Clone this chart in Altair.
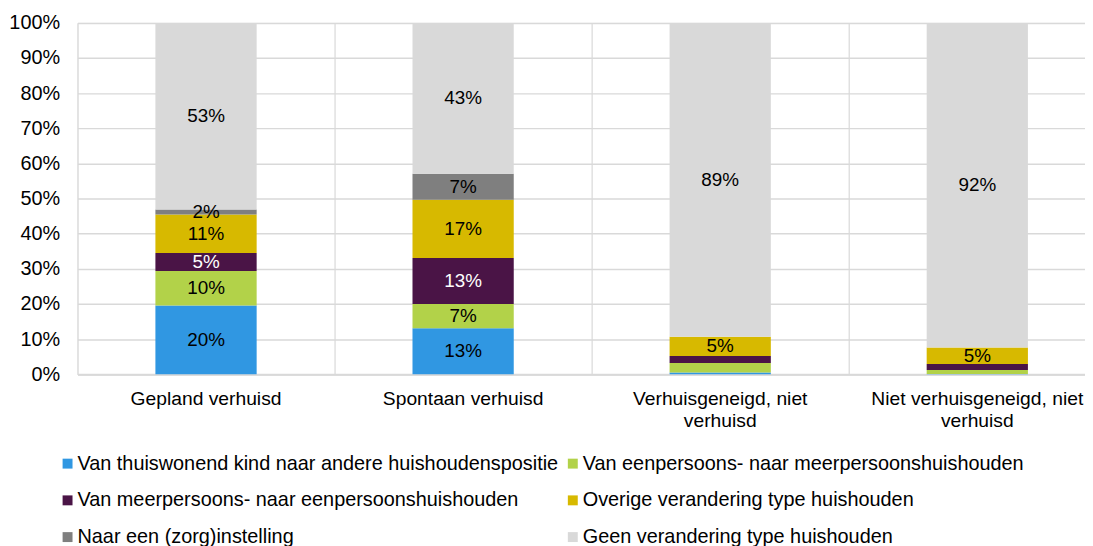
import altair as alt
import pandas as pd

categories = [
    "Gepland verhuisd",
    "Spontaan verhuisd",
    "Verhuisgeneigd, niet\nverhuisd",
    "Niet verhuisgeneigd, niet\nverhuisd",
]
series = [
    "Van thuiswonend kind naar andere huishoudenspositie",
    "Van eenpersoons- naar meerpersoonshuishouden",
    "Van meerpersoons- naar eenpersoonshuishouden",
    "Overige verandering type huishouden",
    "Naar een (zorg)instelling",
    "Geen verandering type huishouden",
]
colors = ["#3097E2", "#B2D249", "#4A1446", "#D7B900", "#7F7F7F", "#D9D9D9"]
text_colors = ["#000000", "#000000", "#FFFFFF", "#000000", "#000000", "#000000"]

# values in percent, per series, per category
v_kind = [19.6, 13.1, 0.5, 0.1]
v_een_meer = [9.8, 6.9, 2.7, 1.1]
v_meer_een = [5.1, 13.1, 2.0, 1.7]
v_overig = [11.0, 16.6, 5.5, 4.7]
v_zorg = [1.4, 7.4, 0.0, 0.0]
v_geen = [53.1, 42.9, 89.3, 92.4]

l_kind = ["20%", "13%", "", ""]
l_een_meer = ["10%", "7%", "", ""]
l_meer_een = ["5%", "13%", "", ""]
l_overig = ["11%", "17%", "5%", "5%"]
l_zorg = ["2%", "7%", "", ""]
l_geen = ["53%", "43%", "89%", "92%"]

y_ticks = [0.0, 0.1, 0.2, 0.3, 0.4, 0.5, 0.6, 0.7, 0.8, 0.9, 1.0]

values = [v_kind, v_een_meer, v_meer_een, v_overig, v_zorg, v_geen]
labels = [l_kind, l_een_meer, l_meer_een, l_overig, l_zorg, l_geen]

rows = []
for si, s in enumerate(series):
    for ci, c in enumerate(categories):
        rows.append({
            "cat": c,
            "series": s,
            "order": si,
            "value": values[si][ci] / 100.0,
            "label": labels[si][ci],
            "tcolor": text_colors[si],
        })
df = pd.DataFrame(rows)

FONT = "Liberation Sans"
AX_FS = 20

xscale = alt.Scale(domain=categories, range=[0, 1036], paddingInner=0, paddingOuter=0)
yscale = alt.Scale(domain=[0, 1], nice=False)

xaxis = alt.Axis(
    title=None,
    labelExpr="split(datum.label, '\\n')",
    labelAngle=0,
    labelFontSize=19.4,
    labelFont=FONT,
    labelColor="#000000",
    labelPadding=15,
    labelLineHeight=23,
    labelLimit=400,
    labelOverlap=False,
    ticks=False,
    domain=True,
    domainColor="#D9D9D9",
    domainWidth=2,
    grid=True,
    gridColor="#E0E0E0",
    gridWidth=1.5,
    bandPosition=0,
)
yaxis = alt.Axis(
    title=None,
    format=".0%",
    values=y_ticks,
    labelFontSize=AX_FS,
    labelFont=FONT,
    labelColor="#000000",
    labelPadding=18,
    labelOverlap=False,
    ticks=False,
    domain=False,
    grid=True,
    gridColor="#D9D9D9",
    gridWidth=1.5,
)

base = alt.Chart(df)

bars = base.mark_bar(size=102).encode(
    x=alt.X("cat:N", sort=categories, scale=xscale, axis=xaxis),
    y=alt.Y("value:Q", stack="zero", scale=yscale, axis=yaxis),
    color=alt.Color(
        "series:N",
        sort=series,
        scale=alt.Scale(domain=series, range=colors),
        legend=alt.Legend(
            title=None,
            orient="none",
            legendX=-20,
            legendY=434,
            columns=2,
            direction="horizontal",
            symbolType="square",
            symbolSize=100,
            symbolStrokeWidth=0,
            labelFontSize=AX_FS,
            labelFont=FONT,
            labelColor="#000000",
            labelOffset=0,
            labelLimit=700,
            columnPadding=4,
            rowPadding=17,
            padding=0,
        ),
    ),
    order=alt.Order("order:Q", sort="ascending"),
)

texts = base.transform_stack(
    stack="value",
    groupby=["cat"],
    as_=["v0", "v1"],
    sort=[alt.SortField("order", order="ascending")],
).transform_calculate(
    mid="(datum.v0 + datum.v1) / 2"
).mark_text(fontSize=19, font=FONT, baseline="middle", align="center").encode(
    x=alt.X("cat:N", sort=categories, scale=xscale, axis=xaxis),
    y=alt.Y("mid:Q", scale=yscale, axis=yaxis),
    text="label:N",
    color=alt.Color("tcolor:N", scale=None, legend=None),
)

chart = alt.layer(bars, texts).properties(
    width=1015,
    height=354,
    autosize=alt.AutoSizeParams(type="none"),
    padding={"left": 70, "top": 13, "right": 0, "bottom": 176},
).configure_view(stroke=None).configure(font=FONT)

chart.save("out.html", embed_options={"renderer": "svg", "actions": False})
